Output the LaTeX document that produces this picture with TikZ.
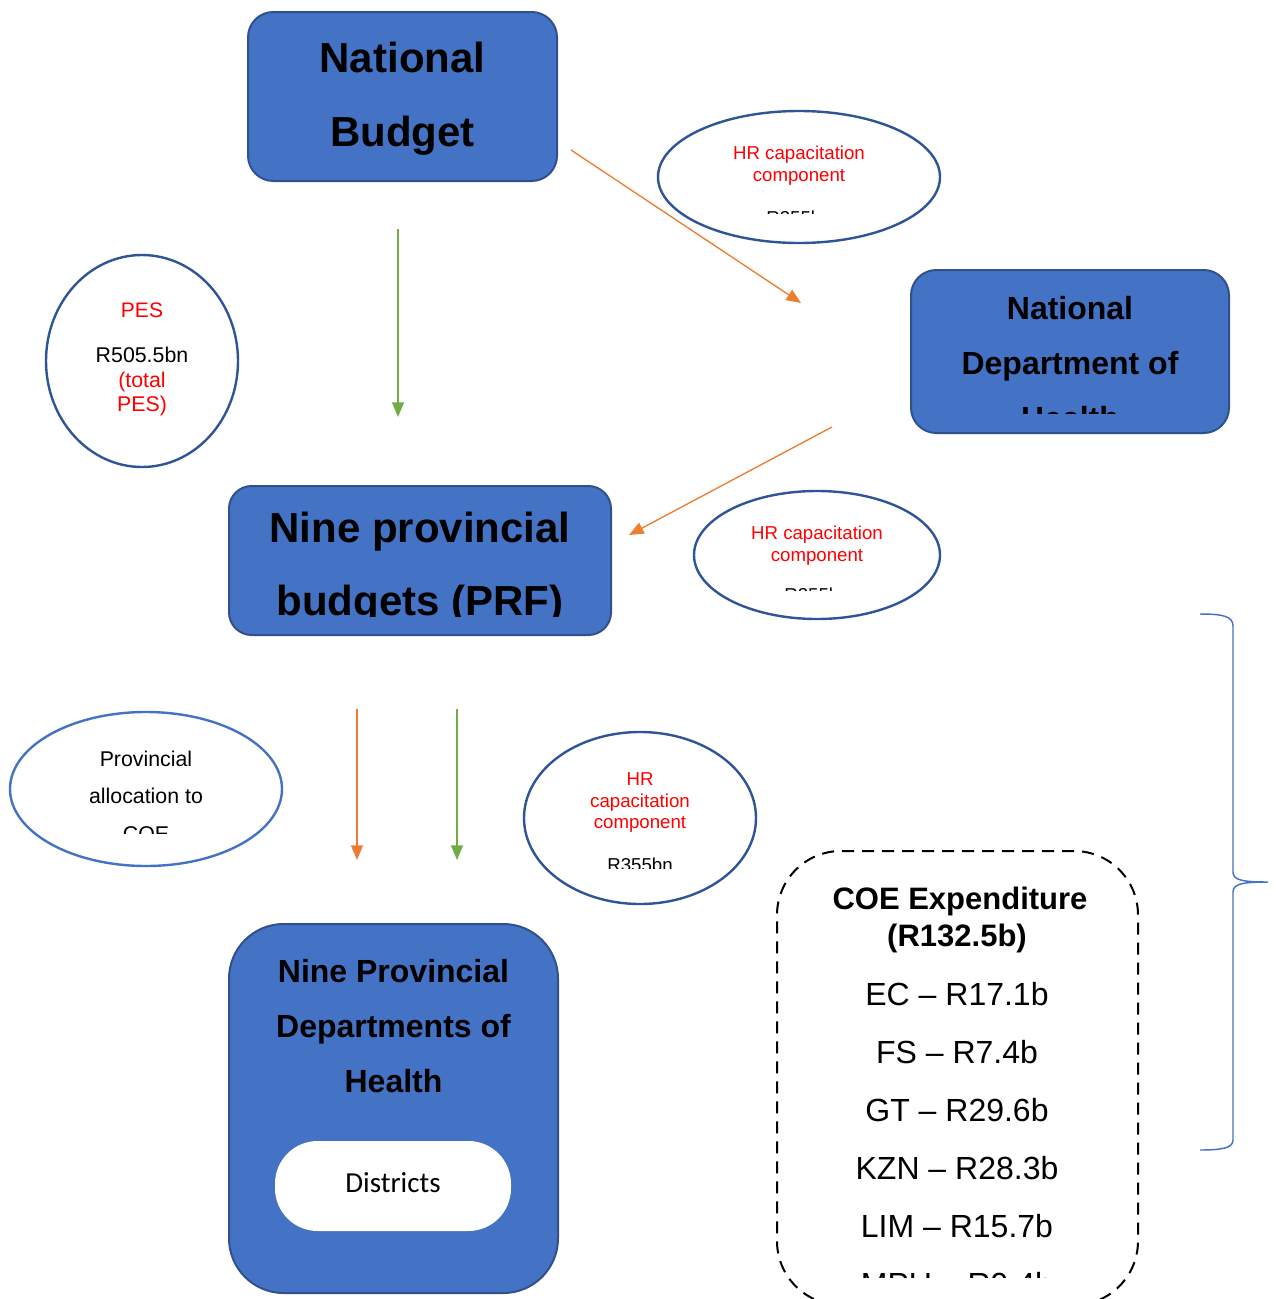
\documentclass[tikz,border=0pt]{standalone}
\usepackage{fontspec}
\setmainfont{Liberation Sans}
\newfontfamily\calibrifont{Carlito}
\usetikzlibrary{shapes.geometric,arrows.meta}
\definecolor{boxblue}{HTML}{4472C4}
\definecolor{boxedge}{HTML}{2F528F}
\definecolor{ringblue}{HTML}{2F5597}
\definecolor{flowgreen}{HTML}{70AD47}
\definecolor{floworange}{HTML}{ED7D31}
\definecolor{textred}{HTML}{FF0000}

\begin{document}
\begin{tikzpicture}[x=0.75pt,y=-0.75pt,
  bluebox/.style={draw=boxedge, line width=1.5pt, fill=boxblue, rounded corners=#1, inner sep=0pt},
  bluebox/.default=19pt,
  ring/.style={ellipse, draw=ringblue, line width=1.8pt, fill=white, inner sep=0pt},
  flow/.style={line width=1pt, -{Triangle[length=11pt,width=9pt]}},
  lbl/.style={anchor=base, inner sep=0pt},
  titlebig/.style={lbl, font=\fontsize{31.5}{36}\selectfont\bfseries},
  titlemid/.style={lbl, font=\fontsize{24}{28}\selectfont\bfseries},
  small/.style={lbl, font=\fontsize{14}{17}\selectfont},
  smallred/.style={small, text=textred},
  note/.style={lbl, font=\fontsize{16}{19}\selectfont},
  notered/.style={note, text=textred},
  coehead/.style={lbl, font=\fontsize{23.25}{27}\selectfont\bfseries},
  coeline/.style={lbl, font=\fontsize{24}{28}\selectfont},
]
\useasboundingbox (0,0) rectangle (1275,1299);
\clip (0,0) rectangle (1275,1299);

% ---------- shapes ----------
\node[bluebox, minimum width=231.75pt, minimum height=126.75pt] (nb) at (402.5,96.5) {};
\node[bluebox, minimum width=238.5pt, minimum height=122.25pt] (ndoh) at (1070,351.5) {};
\node[bluebox=17pt, minimum width=286.5pt, minimum height=111.75pt] (prf) at (420,560.5) {};
\node[bluebox=41pt, minimum width=246.75pt, minimum height=276.75pt] (pdoh) at (393.5,1108.5) {};
\node[draw=none, fill=white, rounded corners=32pt, minimum width=177pt, minimum height=67.5pt, inner sep=0pt] (dist) at (393,1186) {};

\node[ring, minimum width=211.5pt, minimum height=99pt] (hr1) at (799,177) {};
\node[ring, minimum width=144pt, minimum height=159pt] (pes) at (142,361) {};
\node[ring, minimum width=184.5pt, minimum height=96pt] (hr2) at (817,555) {};
\node[ring, draw=boxblue, minimum width=204pt, minimum height=115.5pt] (alloc) at (146,789) {};
\node[ring, minimum width=174pt, minimum height=129pt] (hr3) at (640,818) {};

\node[draw=black, line width=1.5pt, dash pattern=on 9pt off 6pt, rounded corners=48pt,
      minimum width=270.75pt, minimum height=340.5pt, inner sep=0pt] (coe) at (957.5,1078) {};

% ---------- flows ----------
\coordinate (nbout) at (398,229);
\coordinate (prfin) at (398,417);
\coordinate (nbside) at (571,150);
\coordinate (ndohin) at (801,303);
\coordinate (ndohout) at (832,427);
\coordinate (prfside) at (629,535);
\coordinate (prfoutA) at (357,709);
\coordinate (pdohinA) at (357,860);
\coordinate (prfoutB) at (457,709);
\coordinate (pdohinB) at (457,860);

\draw[flow, flowgreen] (nbout) -- (prfin);
\draw[flow, floworange] (nbside) -- (ndohin);
\draw[flow, floworange] (ndohout) -- (prfside);
\draw[flow, floworange] (prfoutA) -- (pdohinA);
\draw[flow, flowgreen] (prfoutB) -- (pdohinB);

% ---------- brace ----------
\draw[boxblue, line width=1.1pt]
  (1200,614) .. controls (1222,614) and (1233,616) .. (1233,626) -- (1233,872)
  .. controls (1233,880) and (1242,882) .. (1268,882)
  .. controls (1242,882) and (1233,884) .. (1233,892) -- (1233,1140)
  .. controls (1233,1148) and (1222,1150) .. (1200,1150);

% ---------- texts ----------
\node[titlebig] (nbt1) at (402.5,72) {National};
\node[titlebig] (nbt2) at (402.5,146) {Budget};

\begin{scope}
  \clip (915,272) rectangle (1225,413);
  \node[titlemid] (ndt1) at (1070,319.5) {National};
  \node[titlemid] (ndt2) at (1070,374.5) {Department of};
  \node[titlemid] (ndt3) at (1070,429.5) {Health};
\end{scope}

\begin{scope}
  \clip (232,488) rectangle (608,616);
  \node[titlebig] (prft1) at (420,542) {Nine provincial};
  \node[titlebig] (prft2) at (420,615) {budgets (PRF)};
\end{scope}

\node[titlemid] (pdt1) at (393.5,982.5) {Nine Provincial};
\node[titlemid] (pdt2) at (393.5,1037.5) {Departments of};
\node[titlemid] (pdt3) at (393.5,1092.5) {Health};
\node[lbl, font=\calibrifont\fontsize{21.75}{26}\selectfont] (distt) at (393,1192) {Districts};

\begin{scope}
  \clip (660,120) rectangle (940,213.5);
  \node[smallred] (hr1a) at (799,159.5) {HR capacitation};
  \node[smallred] (hr1b) at (799,181) {component};
  \node[small] (hr1c) at (799,224.5) {R355bn};
\end{scope}

\begin{scope}
  \clip (700,500) rectangle (935,590);
  \node[smallred] (hr2a) at (817,539.5) {HR capacitation};
  \node[smallred] (hr2b) at (817,561) {component};
  \node[small] (hr2c) at (817,601.5) {R355bn};
\end{scope}

\begin{scope}
  \clip (530,750) rectangle (750,868);
  \node[smallred] (hr3a) at (640,785.5) {HR};
  \node[smallred] (hr3b) at (640,807) {capacitation};
  \node[smallred] (hr3c) at (640,828.5) {component};
  \node[small] (hr3d) at (640,871.5) {R355bn};
\end{scope}

\node[notered, font=\fontsize{15.75}{19}\selectfont] (pest1) at (142,317.5) {PES};
\node[note] (pest2) at (142,362.5) {R505.5bn};
\node[notered] (pest3) at (142,387) {(total};
\node[notered] (pest4) at (142,411.5) {PES)};

\begin{scope}
  \clip (20,730) rectangle (270,833);
  \node[note] (alt1) at (146,766.5) {Provincial};
  \node[note] (alt2) at (146,803.5) {allocation to};
  \node[note] (alt3) at (146,841) {COE};
\end{scope}

\begin{scope}
  \clip (780,855) rectangle (1135,1277);
  \node[coehead] (coet1) at (960,909) {COE Expenditure};
  \node[coehead] (coet2) at (957,946) {(R132.5b)};
  \node[coeline] (coe1) at (957,1005.5) {EC – R17.1b};
  \node[coeline] (coe2) at (957,1063.5) {FS – R7.4b};
  \node[coeline] (coe3) at (957,1121.5) {GT – R29.6b};
  \node[coeline] (coe4) at (957,1179.5) {KZN – R28.3b};
  \node[coeline] (coe5) at (957,1237.5) {LIM – R15.7b};
  \node[coeline] (coe6) at (957,1295.5) {MPU – R9.4b};
\end{scope}
\end{tikzpicture}
\end{document}
